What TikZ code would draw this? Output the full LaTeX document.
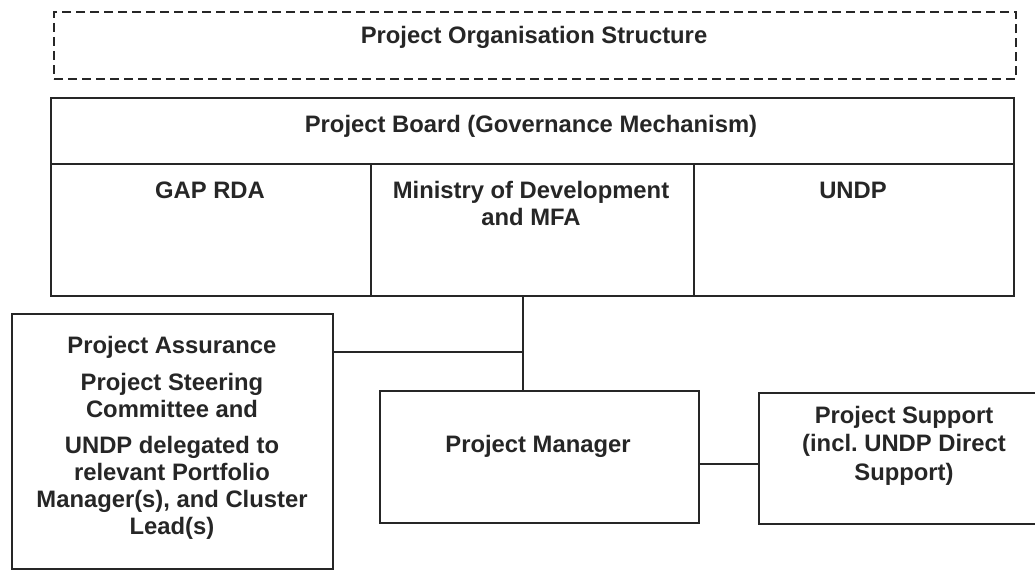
\documentclass[tikz,border=0pt]{standalone}
\usepackage{fontspec}
\setmainfont{Liberation Sans}
\frenchspacing
\begin{document}
\begin{tikzpicture}[x=1pt,y=-1pt,
  ink/.style={draw=black!85},
  box/.style={ink, rectangle, line width=2.2pt, inner sep=0pt, anchor=north west},
  dashbox/.style={box, line width=2pt, dash pattern=on 9pt off 5pt},
  lbl/.style={inner sep=0pt, align=center, text=black!85,
    font=\fontsize{23.8}{27}\selectfont\bfseries},
  link/.style={ink, line width=2.2pt}]
  % canvas
  \path[use as bounding box, fill=white] (0,0) rectangle (1035,570);
  \clip (0,0) rectangle (1035,570);

  % heading
  \node[dashbox, minimum width=962pt, minimum height=67pt] (tb) at (53,11) {};
  \node[lbl, anchor=base] (tbt) at (534,43) {Project Organisation Structure};

  % board table
  \node[box, minimum width=963pt, minimum height=66pt] (hd) at (50,97) {};
  \node[box, minimum width=320pt, minimum height=132pt] (gap) at (50,163) {};
  \node[box, minimum width=323pt, minimum height=132pt] (mod) at (370,163) {};
  \node[box, minimum width=320pt, minimum height=132pt] (undp) at (693,163) {};
  \node[lbl, anchor=base] (hdt) at (531,132) {Project Board (Governance Mechanism)};
  \node[lbl, anchor=base] (gapt) at (210,198) {GAP RDA};
  \node[lbl, anchor=north] (modt) at (531,181) {Ministry of Development\\and MFA};
  \node[lbl, anchor=base] (undpt) at (853,198) {UNDP};

  % lower boxes
  \node[box, minimum width=321pt, minimum height=255pt] (pa) at (11,313) {};
  \node[lbl, anchor=north] (pat) at (172,336)
    {Project Assurance\\[10pt]Project Steering\\Committee and\\[9pt]UNDP delegated to\\relevant Portfolio\\Manager(s), and Cluster\\Lead(s)};
  \node[box, minimum width=319pt, minimum height=132pt] (pm) at (379,390) {};
  \node[lbl, anchor=base] (pmt) at (538,452) {Project Manager};
  \node[box, minimum width=292pt, minimum height=131pt] (ps) at (758,392) {};
  \node[lbl, anchor=north] (pst) at (904,406) {Project Support\\[1.5pt](incl. UNDP Direct\\[1.5pt]Support)};

  % connectors
  \coordinate (jn) at (523,352);
  \coordinate (jp) at (728,464);
  \draw[link] (jn |- mod.south) -- (jn |- pm.north);
  \draw[link] (pa.east |- jn) -- (jn);
  \draw[link] (jp -| pm.east) -- (jp -| ps.west);
\end{tikzpicture}
\end{document}
